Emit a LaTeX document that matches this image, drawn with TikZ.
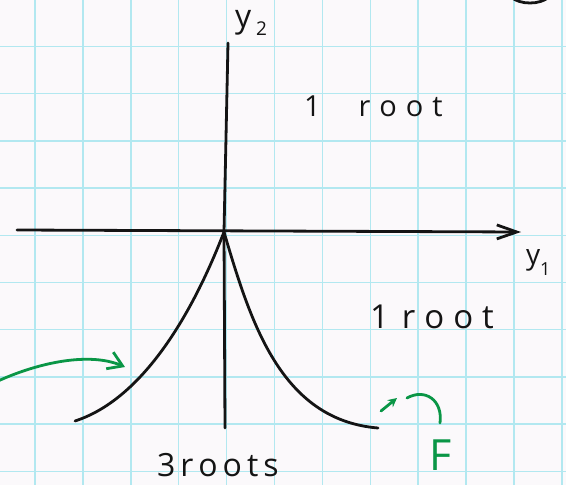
\documentclass[tikz,border=0pt]{standalone}
\usepackage{fontspec}
\setmainfont{Open Sans}
\usetikzlibrary{arrows.meta}
\definecolor{paper}{RGB}{251,249,251}
\definecolor{gridc}{RGB}{178,232,240}
\definecolor{pen}{RGB}{20,20,20}
\definecolor{greenpen}{RGB}{10,150,70}
\begin{document}
\begin{tikzpicture}[x=1pt,y=-1pt,
  ink/.style={draw=pen,line width=2.8pt,line cap=round,line join=round},
  gink/.style={draw=greenpen,line width=2.8pt,line cap=round,line join=round},
  lbl/.style={inner sep=0pt,outer sep=0pt,text=pen,anchor=base west},
  gridline/.style={draw=gridc,line width=1.5pt}]
\useasboundingbox (0,0) rectangle (566,485);
\fill[paper] (0,0) rectangle (566,485);
\foreach \i in {0,...,11} \draw[gridline] ({35+47.9*\i},0) -- ({35+47.9*\i},485);
\foreach \j in {0,...,10} \draw[gridline] (0,{-0.7+47.2*\j}) -- (566,{-0.7+47.2*\j});
% axes
\coordinate (o) at (224,232);
\coordinate (ytop) at (228,43);
\coordinate (ybot) at (225,428);
\coordinate (xl) at (17,230);
\coordinate (xr) at (521,232);
\draw[ink] (ytop) -- (o) -- (ybot);
\draw[ink,-{Straight Barb[length=20pt,width=14pt]}] (xl) -- (xr);
% cusp curve
\coordinate (cl) at (75,421);
\coordinate (cr) at (378,428);
\draw[ink] (cl) .. controls (140,400) and (190,320) .. (o)
  .. controls (250,320) and (280,420) .. (cr);
% green arrow on the left
\coordinate (gs) at (-2,381);
\coordinate (gt) at (125,367);
\draw[gink,-{Straight Barb[length=14pt,width=18pt]}] (gs) .. controls (40,362) and (90,352) .. (gt);
% small green arrow near F
\coordinate (fa) at (381,411);
\coordinate (fb) at (397,398);
\draw[gink,-{Stealth[length=9pt,width=9pt]}] (fa) -- (fb);
\coordinate (fc) at (407,398);
\coordinate (fd) at (440,423);
\draw[gink] (fc) .. controls (425,388) and (443,400) .. (fd);
% partial circle at top right
\coordinate (ca) at (511,-3);
\coordinate (cb) at (549,-3);
\draw[ink] (ca) .. controls (520,5) and (540,5) .. (cb);
% labels
\node[lbl] (y2) at (235,27) {\fontsize{32}{34}\selectfont y\kern5pt\raisebox{-8pt}{\fontsize{19}{19}\selectfont 2}};
\node[lbl] (y1) at (526,264) {\fontsize{28}{30}\selectfont y\kern0pt\raisebox{-11pt}{\fontsize{18}{18}\selectfont 1}};
\node[lbl] (top) at (304,116) {\fontsize{29}{31}\selectfont 1\kern38pt r\kern9pt o\kern9pt o\kern9pt t};
\node[lbl] (right) at (370,328) {\fontsize{33}{35}\selectfont 1\kern13pt r\kern9pt o\kern9pt o\kern9pt t};
\node[lbl] (bottom) at (157,476) {\fontsize{32}{34}\selectfont 3\kern5pt r\kern5pt o\kern5pt o\kern5pt t\kern5pt s};
\node[lbl,text=greenpen] (F) at (429,470) {\fontsize{43}{45}\selectfont F};
\end{tikzpicture}
\end{document}
